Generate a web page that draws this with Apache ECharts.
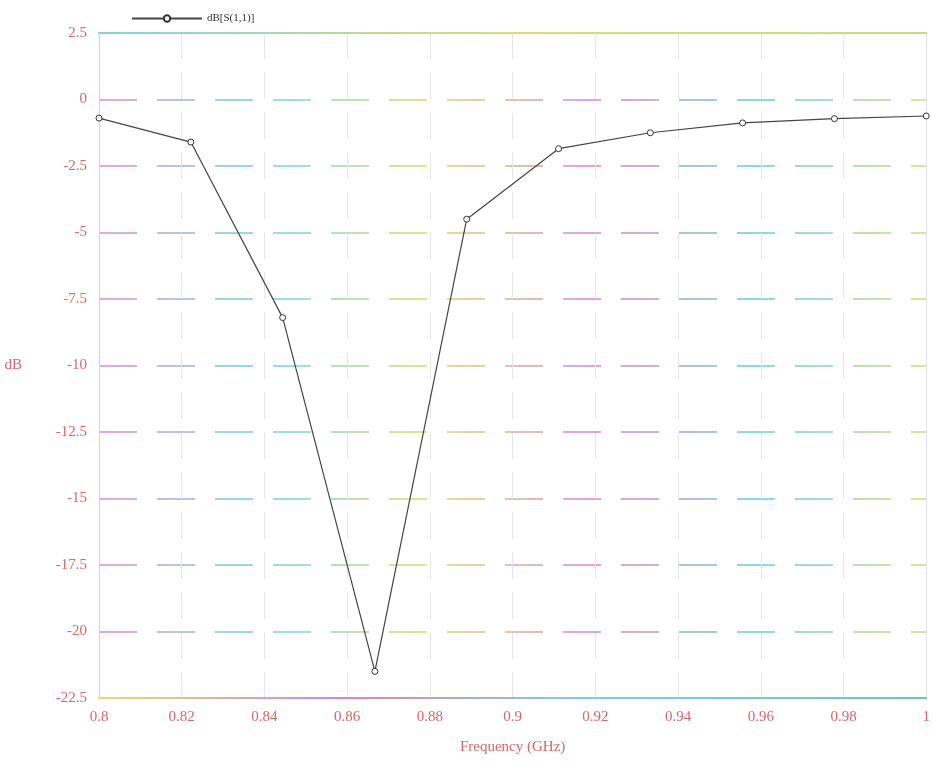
<!DOCTYPE html>
<html>
<head>
<meta charset="utf-8">
<script src="https://cdn.jsdelivr.net/npm/echarts@6/dist/echarts.min.js"></script>
<style>
  html, body { margin: 0; padding: 0; background: #fff; }
  #chart { width: 933px; height: 772px; }
</style>
</head>
<body>
<div id="chart"></div>
<script>
// 频率 (GHz)
const freq = [0.8, 0.8222, 0.8444, 0.8667, 0.8889, 0.9111, 0.9333, 0.9556, 0.9778, 1.0]
// dB[S(1,1)]
const s11 = [-0.7, -1.6, -8.2, -21.5, -4.5, -1.85, -1.25, -0.88, -0.72, -0.62]
const seriesName = 'dB[S(1,1)]'

const labelColor = '#d9666a'
const serif = '"Liberation Serif", "DejaVu Serif", serif'

let chart = echarts.init(document.getElementById('chart'))

// 彩色虚线
const rainbow = new echarts.graphic.LinearGradient(0, 0, 1, 0, [
  { offset: 0, color: '#d98ad6' },
  { offset: 0.2, color: '#6fd2de' },
  { offset: 0.4, color: '#d8dc6a' },
  { offset: 0.6, color: '#d883cf' },
  { offset: 0.8, color: '#62cfdc' },
  { offset: 1, color: '#d6dc72' }
])
const solidTop = new echarts.graphic.LinearGradient(0, 0, 1, 0, [
  { offset: 0, color: '#7fd6dc' },
  { offset: 0.5, color: '#d8e070' },
  { offset: 1, color: '#bfe27a' }
])
const solidBottom = new echarts.graphic.LinearGradient(0, 0, 1, 0, [
  { offset: 0, color: '#e0e070' },
  { offset: 0.3, color: '#d088d0' },
  { offset: 0.6, color: '#7fd0dc' },
  { offset: 1, color: '#6fbfd4' }
])

let option = {
  animation: false,
  backgroundColor: '#fff',
  legend: {
    left: 126,
    top: 8,
    itemWidth: 70,
    itemHeight: 8,
    itemGap: 6,
    textStyle: { fontFamily: serif, fontSize: 11, color: '#333' },
    data: [seriesName]
  },
  grid: { left: 99, right: 3, top: 33, bottom: 74 },
  xAxis: [
    {
      type: 'value',
      min: 0.8,
      max: 1,
      interval: 0.02,
      name: 'Frequency (GHz)',
      nameLocation: 'middle',
      nameGap: 42,
      nameTextStyle: { fontFamily: serif, fontSize: 15, color: labelColor },
      axisLine: { show: true, onZero: false, lineStyle: { color: solidBottom, width: 2 } },
      axisTick: { show: false },
      axisLabel: { fontFamily: serif, fontSize: 15, color: labelColor, margin: 12 },
      splitLine: { show: true, lineStyle: { color: '#e4e6ec', type: [26, 14], width: 1 } }
    },
    {
      type: 'value',
      position: 'top',
      min: 0.8,
      max: 1,
      axisLine: { show: true, onZero: false, lineStyle: { color: solidTop, width: 2 } },
      axisTick: { show: false },
      axisLabel: { show: false },
      splitLine: { show: false }
    }
  ],
  yAxis: [
    {
      type: 'value',
      min: -22.5,
      max: 2.5,
      interval: 2.5,
      name: 'dB',
      nameLocation: 'middle',
      nameRotate: 0,
      nameGap: 77,
      nameTextStyle: { fontFamily: serif, fontSize: 15, color: labelColor },
      axisLine: { show: true, onZero: false, lineStyle: { color: '#d0d4dc', width: 1 } },
      axisTick: { show: false },
      axisLabel: { fontFamily: serif, fontSize: 15, color: labelColor, margin: 12 },
      splitLine: { show: true, lineStyle: { color: rainbow, type: [38, 20], width: 1.6 } }
    },
    {
      type: 'value',
      position: 'right',
      min: -22.5,
      max: 2.5,
      axisLine: { show: true, onZero: false, lineStyle: { color: '#e4e4e8', width: 1 } },
      axisTick: { show: false },
      axisLabel: { show: false },
      splitLine: { show: false }
    }
  ],
  series: [
    {
      name: seriesName,
      type: 'line',
      data: freq.map((f, i) => [f, s11[i]]),
      symbol: 'circle',
      symbolSize: 6,
      showSymbol: true,
      lineStyle: { color: '#444', width: 1.2 },
      itemStyle: { color: '#fff', borderColor: '#333', borderWidth: 1 }
    }
  ]
}

chart.setOption(option)
</script>
</body>
</html>
